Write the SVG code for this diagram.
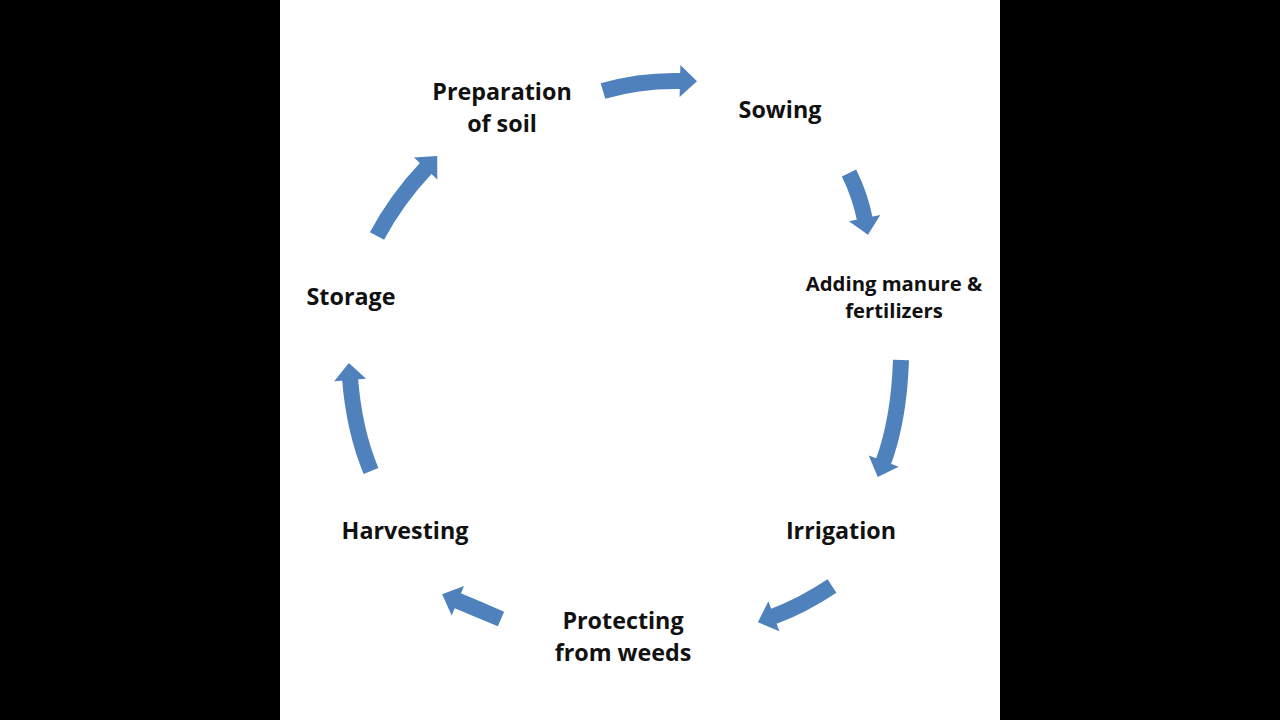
<svg xmlns="http://www.w3.org/2000/svg" width="1280" height="720" viewBox="0 0 1280 720">
<defs>
<marker id="head" markerUnits="userSpaceOnUse" markerWidth="40" markerHeight="40" viewBox="0 -20 30 40" refX="2" refY="0" orient="auto">
<path d="M0,-16 L17,0 L0,16 Z" fill="#4F81BD"/>
</marker>
<style>
.arr{fill:none;stroke:#4F81BD;stroke-width:16;marker-end:url(#head)}
.lbl{font-family:"Open Sans","Liberation Sans",sans-serif;font-weight:700;font-size:23.3px;fill:#111;text-anchor:middle}
.sm{font-size:20.3px}
</style>
</defs>
<rect x="0" y="0" width="1280" height="720" fill="#000"/>
<rect x="280" y="0" width="720" height="720" fill="#fff"/>
<g id="connectors">
<path class="arr" d="M603,91 Q640,80 682,81"/>
<path class="arr" d="M849,173 Q860,195 865,220"/>
<path class="arr" d="M901,360 Q899,420 883,463"/>
<path class="arr" d="M832,586 Q802,606 772,617"/>
<path class="arr" d="M501,619 Q480,610 456,600"/>
<path class="arr" d="M371,471 Q354,430 350,378"/>
<path class="arr" d="M377,236 Q396,200 427,167"/>
</g>
<g id="n1"><text class="lbl" x="502" y="100">Preparation</text><text class="lbl" x="502" y="132">of soil</text></g>
<g id="n2"><text class="lbl" x="780" y="118">Sowing</text></g>
<g id="n3"><text class="lbl sm" x="894" y="291">Adding manure &amp;</text><text class="lbl sm" x="894" y="318">fertilizers</text></g>
<g id="n4"><text class="lbl" x="841" y="539">Irrigation</text></g>
<g id="n5"><text class="lbl" x="623" y="629">Protecting</text><text class="lbl" x="623" y="661">from weeds</text></g>
<g id="n6"><text class="lbl" x="405" y="539">Harvesting</text></g>
<g id="n7"><text class="lbl" x="351" y="305">Storage</text></g>
</svg>
